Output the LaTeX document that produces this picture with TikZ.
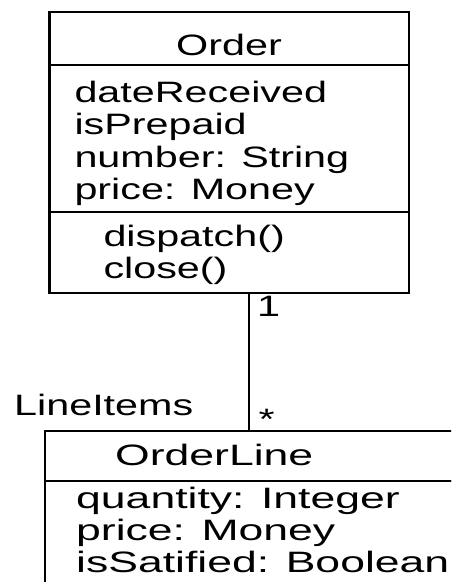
\documentclass[tikz,border=0pt]{standalone}
\usepackage{fontspec}
\setmainfont[FakeStretch=1.40]{Liberation Sans}
\newfontfamily\widefont[FakeStretch=1.51]{Liberation Sans}
\begin{document}
\begin{tikzpicture}[x=1pt,y=-1pt,
  box/.style={draw, line width=2.3pt, inner sep=0pt, anchor=north west},
  txt/.style={inner sep=0pt, anchor=base west, font=\fontsize{29.5}{32.5}\selectfont},
  wtxt/.style={inner sep=0pt, anchor=base west, font=\widefont\fontsize{29.5}{32.5}\selectfont},
  assoc/.style={line width=2.3pt}]
\useasboundingbox (0,0) rectangle (451,582);
\clip (0,0) rectangle (451,582);
% Order class
\node[box, minimum width=359.7pt, minimum height=52.5pt] (orderName) at (48.3,11) {};
\node[box, minimum width=359.7pt, minimum height=147.5pt] (orderAttrs) at (48.3,63.5) {};
\node[box, minimum width=359.7pt, minimum height=81pt] (orderOps) at (48.3,211) {};
\node[txt] (tOrder) at (176,55) {Order};
\node[txt] (a1) at (74.3,102) {dateReceived};
\node[txt] (a2) at (74.3,134.5) {isPrepaid};
\node[txt] (a3) at (74.3,167) {number: String};
\node[txt] (a4) at (74.3,199.5) {price: Money};
\node[txt] (o1) at (103.3,246) {dispatch()};
\node[txt] (o2) at (103.3,278) {close()};
% OrderLine class
\node[box, minimum width=440pt, minimum height=49.5pt] (olName) at (44,430) {};
\node[box, minimum width=440pt, minimum height=140pt] (olAttrs) at (44,479.5) {};
\node[wtxt] (tOrderLine) at (115,465) {OrderLine};
\node[wtxt] (b1) at (76,508) {quantity: Integer};
\node[wtxt] (b2) at (76,540) {price: Money};
\node[wtxt] (b3) at (76,572) {isSatified: Boolean};
% association
\coordinate (assocX) at (248.7,350);
\draw[assoc] (orderOps.south -| assocX) -- ([yshift=-2pt]olName.north -| assocX);
\node[txt] (m1) at (257,316.7) {1};
\node[txt] (m2) at (258.5,429.6) {*};
\node[txt] (role) at (14,415) {LineItems};
\end{tikzpicture}
\end{document}
